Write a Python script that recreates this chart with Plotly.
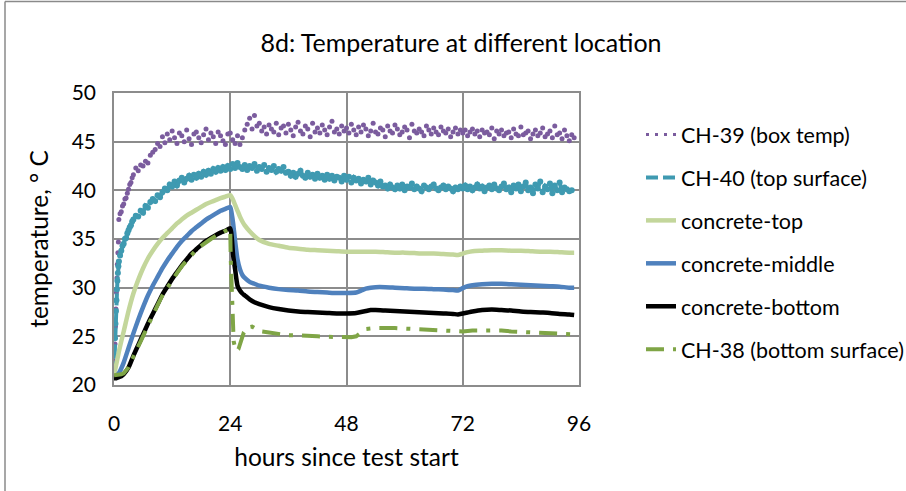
import numpy as np
import plotly.graph_objects as go

# ---------------- data ----------------
# concrete sensors (smooth)
h_conc = [0, 0.5, 1, 1.5, 2, 3, 4, 5, 6, 7, 8, 9, 10, 11, 12, 13, 14, 15, 16, 17, 18, 19, 20, 21, 22, 23, 24,
          24.3, 24.6, 25, 25.5, 26, 26.5, 27, 28, 29, 30, 32, 34, 36, 38, 40, 42, 44, 46, 48, 50, 51, 52, 53,
          54, 56, 58, 60, 62, 64, 66, 68, 70, 71, 72, 73, 74, 76, 78, 80, 82, 84, 86, 88, 90, 92, 94, 95]
conc_top = [21.0, 22.2, 23.4, 24.5, 25.5, 27.6, 29.4, 30.8, 32.0, 33.0, 33.8, 34.5, 35.1, 35.6, 36.1, 36.6,
            37.0, 37.4, 37.7, 38.0, 38.3, 38.6, 38.8, 39.0, 39.2, 39.35, 39.5,
            39.3, 39.0, 38.5, 37.9, 37.3, 36.8, 36.4, 35.8, 35.3, 34.9, 34.5, 34.3, 34.1, 34.0, 33.9, 33.85,
            33.8, 33.75, 33.7, 33.7, 33.7, 33.7, 33.7, 33.7, 33.65, 33.6, 33.6, 33.55, 33.5, 33.5, 33.45,
            33.4, 33.35, 33.5, 33.65, 33.75, 33.8, 33.85, 33.85, 33.8, 33.8, 33.75, 33.7, 33.7, 33.65, 33.6, 33.6]
conc_mid = [20.8, 20.9, 21.2, 21.7, 22.3, 23.8, 25.3, 26.7, 28.0, 29.2, 30.2, 31.1, 32.0, 32.8, 33.5, 34.2,
            34.8, 35.3, 35.8, 36.2, 36.6, 37.0, 37.3, 37.6, 37.9, 38.1, 38.3,
            37.6, 36.6, 34.8, 32.9, 31.9, 31.3, 31.0, 30.6, 30.4, 30.2, 30.0, 29.85, 29.75, 29.7, 29.6, 29.55,
            29.5, 29.45, 29.45, 29.5, 29.7, 29.9, 30.0, 30.05, 30.05, 30.0, 29.95, 29.9, 29.9, 29.85, 29.8,
            29.75, 29.7, 29.95, 30.15, 30.25, 30.35, 30.4, 30.4, 30.35, 30.3, 30.25, 30.2, 30.15, 30.1, 30.0, 30.0]
conc_bot = [20.7, 20.7, 20.8, 20.9, 21.1, 21.8, 23.0, 24.1, 25.2, 26.3, 27.3, 28.3, 29.3, 30.1, 30.9, 31.6,
            32.3, 32.9, 33.5, 33.95, 34.4, 34.8, 35.1, 35.4, 35.65, 35.85, 36.1,
            35.2, 33.3, 31.9, 30.2, 29.7, 29.4, 29.2, 28.8, 28.5, 28.3, 28.0, 27.8, 27.65, 27.55, 27.5, 27.45,
            27.4, 27.35, 27.35, 27.4, 27.5, 27.6, 27.7, 27.7, 27.65, 27.6, 27.55, 27.5, 27.45, 27.4, 27.35,
            27.3, 27.25, 27.35, 27.45, 27.55, 27.7, 27.75, 27.7, 27.65, 27.55, 27.5, 27.45, 27.4, 27.3, 27.25, 27.2]

# CH-38 (bottom surface)
h_38 = [0, 0.5, 1, 1.5, 2, 3, 4, 5, 6, 7, 8, 9, 10, 11, 12, 13, 14, 15, 16, 17, 18, 19, 20, 21, 22, 23, 23.5,
        24, 24.1, 24.2, 24.3, 24.4, 24.5, 24.7, 25.0, 25.3, 25.7, 26.2, 26.8, 27.5, 28.5, 29.5, 30.5, 32, 34,
        36, 38, 40, 42, 44, 46, 48, 49, 50, 51, 52, 54, 56, 58, 60, 62, 64, 66, 68, 70, 72, 74, 76, 78, 80,
        82, 84, 86, 88, 90, 92, 94, 95]
ch38 = [21.0, 21.0, 21.0, 21.1, 21.2, 21.8, 22.9, 24.0, 25.1, 26.2, 27.2, 28.2, 29.2, 30.0, 30.8, 31.5, 32.2,
        32.8, 33.4, 33.9, 34.3, 34.7, 35.0, 35.3, 35.6, 35.8, 36.0,
        36.1, 33.0, 31.0, 29.0, 27.5, 25.5, 24.5, 23.8, 23.5, 23.7, 24.5, 25.4, 25.9, 26.0, 25.7, 25.5, 25.4,
        25.2, 25.1, 25.1, 25.0, 25.0, 24.95, 24.9, 24.9, 24.9, 25.0, 25.4, 25.75, 25.85, 25.9, 25.85, 25.8,
        25.75, 25.65, 25.6, 25.6, 25.55, 25.5, 25.6, 25.6, 25.65, 25.6, 25.5, 25.45, 25.4, 25.35, 25.3,
        25.25, 25.2, 25.2]

# CH-39 (box temp), noisy logger readings
h_39_early = [0.0, 0.1, 0.2, 0.3, 0.4, 0.5, 0.6, 0.7, 0.8, 0.9,
              1.0, 1.25, 1.5, 1.75, 2.0, 2.25, 2.5, 2.75, 3.0, 3.25, 3.5, 3.75]
ch39_early = [21.0, 22.5, 24.2, 26.0, 27.8, 29.5, 31.0, 32.4, 33.6, 34.7,
              37.0, 37.6, 37.8, 38.4, 38.6, 39.1, 39.2, 39.7, 40.1, 40.6, 40.8, 41.3]
ch39_half_hourly = [  # from 4.0 h every 0.5 h
    41.6, 42.3, 42.0, 42.6, 42.5, 43.0, 42.8, 43.6, 43.9, 44.2, 44.8, 44.5,
    45.5, 44.9, 45.8, 45.2, 46.1, 45.4, 44.8, 45.9, 45.6, 45.0, 46.2, 45.3, 44.7, 45.8,
    46.0, 45.4, 44.9, 45.7, 46.3, 45.2, 45.9, 45.5, 44.8, 46.0, 45.6, 45.1, 44.7, 45.8,
    45.9, 45.2, 44.8, 45.6, 44.7, 45.4, 46.2, 46.8, 47.4, 46.3, 47.7, 46.6,
    46.9, 46.1, 46.5, 45.8, 46.7, 46.3, 46.0, 46.9, 45.7, 46.4, 46.6, 45.9, 46.8, 46.2,
    45.6, 46.5, 47.0, 46.1, 45.8, 46.6, 46.3, 45.5, 46.9, 46.0, 46.4, 45.9, 46.7, 46.2,
    45.7, 46.5, 47.1, 46.0, 46.3, 45.8, 46.6, 46.1,
    46.4, 45.9, 46.8, 46.2, 45.7, 46.5, 46.0, 46.7, 46.3, 45.6, 46.1, 46.9, 46.0, 45.8,
    46.4, 46.2, 45.5, 46.6, 46.1, 45.9, 46.7, 46.3, 45.7, 46.0, 46.5, 46.2, 45.4, 46.8,
    46.1, 45.9, 46.3, 46.0, 45.6, 46.6, 46.2, 45.8, 46.4, 46.0, 45.7, 46.5, 46.1, 45.9,
    46.3, 45.5, 46.0, 46.4, 45.8, 46.2,
    45.9, 46.2, 45.6, 46.0, 46.3, 45.8, 46.1, 45.5, 46.2, 45.9, 46.0, 45.7, 46.4, 45.3,
    46.1, 45.8, 46.2, 45.6, 45.9, 46.0, 45.4, 46.3, 45.8, 45.6, 46.5, 45.7, 45.9, 46.1,
    45.3, 45.8, 46.2, 45.6, 45.9, 46.4, 45.5, 45.8, 46.1, 45.4, 46.6, 45.7, 45.9, 45.3,
    46.2, 45.6, 45.1, 45.7, 45.4]

# CH-40 (top surface), noisy logger readings
h_40_early = h_39_early
ch40_early = [21.2, 23.0, 24.8, 26.3, 27.6, 28.7, 29.8, 30.7, 31.5, 32.2,
              32.7, 33.3, 33.8, 34.3, 34.5, 35.0, 35.1, 35.6, 35.9, 36.2, 36.4, 36.8]
ch40_half_hourly = [  # from 4.0 h every 0.5 h
    37.0, 37.4, 37.3, 37.9, 37.7, 38.4, 38.2, 38.8, 39.1, 38.9, 39.5, 39.3,
    39.8, 40.2, 40.0, 40.6, 40.4, 40.9, 40.5, 41.0, 41.3, 40.8, 41.2, 41.5, 41.1, 41.6,
    41.3, 41.7, 41.4, 41.9, 41.6, 42.0, 41.7, 42.2, 41.9, 42.3, 42.0, 42.4, 42.1, 42.5,
    42.2, 42.7, 42.3, 42.8, 42.4, 42.2, 42.6, 42.1, 42.5, 42.3, 42.7, 42.0, 42.4, 42.2,
    42.6, 41.9, 42.3, 42.1, 42.5, 41.9, 42.2, 42.0, 42.4, 41.8,
    41.9, 41.5, 41.8, 41.4, 41.7, 42.0, 41.5, 41.3, 41.8, 41.4, 41.6, 41.2, 41.7, 41.3, 41.5, 41.1,
    41.6, 41.2, 41.5, 41.0, 41.4, 41.3, 40.9, 41.5, 41.1, 41.4, 40.8, 41.3, 41.0, 41.2,
    40.7, 41.1, 40.9, 41.3, 40.6, 41.0, 40.8, 40.5, 40.9, 40.4,
    40.5, 40.2, 40.6, 40.3, 40.1, 40.5, 40.2, 40.6, 40.0, 40.4, 40.3, 40.7, 40.1, 40.4,
    40.2, 39.9, 40.5, 40.3, 40.1, 40.4, 40.6, 40.2, 40.0, 40.3, 40.5, 40.1, 40.4, 40.2,
    39.9, 40.3, 40.1, 40.4,
    40.2, 40.5, 40.1, 40.4, 40.0, 40.3, 40.6, 40.2, 40.4, 39.9, 40.3, 40.5, 40.1, 40.6,
    40.2, 40.0, 40.4, 40.7, 40.1, 40.3, 39.8, 40.5, 40.2, 40.6, 39.9, 40.4, 40.8, 40.0,
    40.3, 39.7, 40.6, 40.2, 40.9, 39.8, 40.4, 40.1, 40.7, 39.7, 40.5, 40.0, 40.8, 39.8,
    40.3, 40.1, 39.9, 40.0]

x_ticks = [0, 24, 48, 72, 96]
y_ticks = [20, 25, 30, 35, 40, 45, 50]

names = ["CH-39 (box temp)", "CH-40 (top surface)", "concrete-top", "concrete-middle",
         "concrete-bottom", "CH-38 (bottom surface)"]

# sampling times of the half-hourly logger records
h_39 = list(h_39_early) + list(4.0 + 0.5 * np.arange(len(ch39_half_hourly)))
h_40 = list(h_40_early) + list(4.0 + 0.5 * np.arange(len(ch40_half_hourly)))
ch39 = ch39_early + ch39_half_hourly
ch40 = ch40_early + ch40_half_hourly

# ---------------- figure ----------------
FONT = "Lato"
c39, c40, ctop, cmid, cbot, c38 = "#7B5C9E", "#3F9AB1", "#C3D69B", "#4F81BD", "#000000", "#7FA546"
grid = "#8C8C8C"

fig = go.Figure()
# CH-39: dots (legend sample drawn as a dotted line)
fig.add_trace(go.Scatter(x=h_39, y=ch39, mode="markers", marker=dict(color=c39, size=5),
                         showlegend=False, legendgroup="g1", hoverinfo="skip"))
fig.add_trace(go.Scatter(x=[None], y=[None], mode="lines", name=names[0], legendgroup="g1",
                         line=dict(color=c39, width=3, dash="3px,6px")))
# CH-40: dense dashed trace of noisy readings
fig.add_trace(go.Scatter(x=h_40, y=ch40, mode="markers", marker=dict(color=c40, size=6),
                         showlegend=False, legendgroup="g2", hoverinfo="skip"))
fig.add_trace(go.Scatter(x=h_40, y=ch40, mode="lines", name=names[1], legendgroup="g2",
                         line=dict(color=c40, width=4, dash="12px,5px")))
fig.add_trace(go.Scatter(x=h_conc, y=conc_top, mode="lines", name=names[2], legendgroup="g3",
                         line=dict(color=ctop, width=4.5, shape="spline", smoothing=0.6)))
fig.add_trace(go.Scatter(x=h_conc, y=conc_mid, mode="lines", name=names[3], legendgroup="g4",
                         line=dict(color=cmid, width=4.5, shape="spline", smoothing=0.6)))
fig.add_trace(go.Scatter(x=h_conc, y=conc_bot, mode="lines", name=names[4], legendgroup="g5",
                         line=dict(color=cbot, width=4.5, shape="spline", smoothing=0.6)))
fig.add_trace(go.Scatter(x=h_38, y=ch38, mode="lines", name=names[5], legendgroup="g6",
                         line=dict(color=c38, width=4, dash="18px,9px,4px,9px")))

W, H = 906, 491
ml, mr, mt, mb = 114, 327, 93, 106
pw, ph = W - ml - mr, H - mt - mb

fig.update_layout(
    width=W, height=H,
    margin=dict(l=ml, r=mr, t=mt, b=mb, pad=0, autoexpand=False),
    paper_bgcolor="white", plot_bgcolor="white",
    font=dict(family=FONT, size=21, color="#000000"),
    title=dict(text="8d: Temperature at different location", x=461 / W, xanchor="center",
               y=1 - 43 / H, yanchor="middle", font=dict(family=FONT, size=25)),
    legend=dict(x=(641 - ml) / pw, xanchor="left", y=1 - (114 - mt) / ph, yanchor="top",
                font=dict(family=FONT, size=21.5), tracegroupgap=12, itemwidth=30,
                bgcolor="rgba(0,0,0,0)"),
    showlegend=True,
)
fig.update_xaxes(range=[0, 96], tickvals=x_ticks, ticktext=[str(v) for v in x_ticks],
                 showgrid=True, gridcolor=grid, gridwidth=1.5, showline=True, linecolor=grid,
                 linewidth=1.5, mirror=True, zeroline=False, ticks="", ticklabelstandoff=19,
                 title=dict(text="hours since test start", font=dict(family=FONT, size=24.5), standoff=15),
                 tickfont=dict(family=FONT, size=21))
fig.update_yaxes(range=[20, 50], tickvals=y_ticks, ticktext=[str(v) for v in y_ticks],
                 showgrid=True, gridcolor=grid, gridwidth=1.5, showline=True, linecolor=grid,
                 linewidth=1.5, mirror=True, zeroline=False, ticks="", ticklabelstandoff=12,
                 title=dict(text="temperature, ° C", font=dict(family=FONT, size=24.5), standoff=16),
                 tickfont=dict(family=FONT, size=21))

# outer chart-area border (left and top edges visible in the frame)
bx = (5 - ml) / pw
by = 1 + (mt - 1.5) / ph
fig.add_shape(type="line", xref="paper", yref="paper", x0=bx, x1=bx, y0=by, y1=-1,
              line=dict(color="#8A8A8A", width=1.5))
fig.add_shape(type="line", xref="paper", yref="paper", x0=bx, x1=3, y0=by, y1=by,
              line=dict(color="#8A8A8A", width=1.5))

fig.write_html("out.html")
